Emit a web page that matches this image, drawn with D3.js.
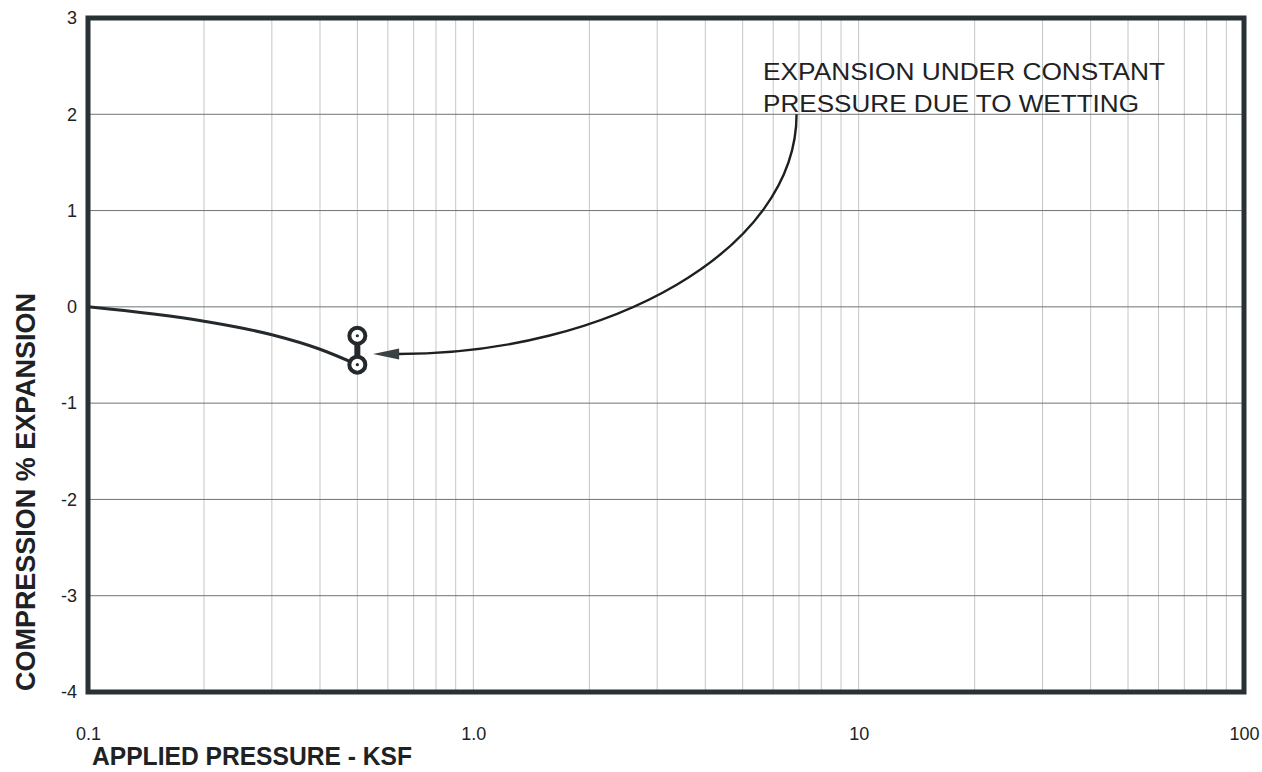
<!DOCTYPE html>
<html>
<head>
<meta charset="utf-8">
<script src="https://cdn.jsdelivr.net/npm/d3@7"></script>
<style>
  html, body { margin: 0; padding: 0; background: #fff; }
  svg { display: block; }
  text { font-family: "Liberation Sans", Arial, Helvetica, sans-serif; fill: #1e2224; }
</style>
</head>
<body>
<svg id="chart" width="1262" height="772"></svg>
<script>
// Consolidation / swell test: applied pressure (ksf) vs. compression (-) / expansion (+) in percent
const loadPressure = [0.1, 0.2, 0.3, 0.4, 0.5];
const loadStrain   = [0, -0.15, -0.29, -0.44, -0.6];

// Readings at constant pressure before and after wetting
const wetPressure = [0.5, 0.5];
const wetStrain   = [-0.6, -0.3];

// Leader from the note to the wetting readings (cubic Bezier: start, two controls, end)
const leaderPressure = [6.9, 6.9, 2.26, 0.638];
const leaderStrain   = [2.0, 0.6, -0.49, -0.49];
const arrowTip = [0.549, -0.49];

const xTickValues = [0.1, 1, 10, 100];
const xTickLabels = ["0.1", "1.0", "10", "100"];
const yTickValues = [3, 2, 1, 0, -1, -2, -3, -4];

const noteLines = ["EXPANSION UNDER CONSTANT", "PRESSURE DUE TO WETTING"];
const xTitle = "APPLIED PRESSURE - KSF";
const yTitle = "COMPRESSION % EXPANSION";

const svg = d3.select("#chart");
const W = 1262, H = 772;
const m = { left: 88, right: 18, top: 18, bottom: 80 };
const x0 = m.left, x1 = W - m.right, y0 = m.top, y1 = H - m.bottom;

const x = d3.scaleLog().domain([0.1, 100]).range([x0, x1]);
const y = d3.scaleLinear().domain([-4, 3]).range([y1, y0]);

const ink = "#23292c";
const fontStack = "Liberation Sans, Arial, sans-serif";

svg.append("rect").attr("width", W).attr("height", H).attr("fill", "#fff");

// Log grid (vertical) and unit grid (horizontal)
const grid = svg.append("g");
grid.selectAll("line.v")
  .data(x.ticks().filter(d => d > 0.1 && d < 100))
  .join("line")
  .attr("x1", d => x(d)).attr("x2", d => x(d))
  .attr("y1", y0).attr("y2", y1)
  .attr("stroke", "#c4c6c6").attr("stroke-width", 1);
grid.selectAll("line.h")
  .data(yTickValues.filter(d => d > -4 && d < 3))
  .join("line")
  .attr("x1", x0).attr("x2", x1)
  .attr("y1", d => y(d)).attr("y2", d => y(d))
  .attr("stroke", "#6e7373").attr("stroke-width", 1);

// Axes (labels only; the frame is drawn separately)
const xAxis = svg.append("g")
  .attr("transform", `translate(0,${y1})`)
  .call(d3.axisBottom(x).tickValues(xTickValues)
    .tickFormat((d, i) => xTickLabels[i]).tickSize(0).tickPadding(35));
xAxis.select(".domain").remove();
xAxis.selectAll("text").attr("font-size", 18).style("font-family", fontStack).attr("fill", "#1e2224");

const yAxis = svg.append("g")
  .attr("transform", `translate(${x0},0)`)
  .call(d3.axisLeft(y).tickValues(yTickValues).tickFormat(d => String(d)).tickSize(0).tickPadding(11));
yAxis.select(".domain").remove();
yAxis.selectAll("text").attr("font-size", 18).style("font-family", fontStack).attr("fill", "#1e2224");

// Loading curve
const line = d3.line().x(d => x(d[0])).y(d => y(d[1])).curve(d3.curveMonotoneX);
svg.append("path")
  .datum(loadPressure.map((p, i) => [p, loadStrain[i]]))
  .attr("d", line)
  .attr("fill", "none").attr("stroke", ink).attr("stroke-width", 3);

// Wetting step: connector and ringed points
const wet = wetPressure.map((p, i) => [p, wetStrain[i]]);
svg.append("line")
  .attr("x1", x(wet[0][0])).attr("y1", y(wet[0][1]))
  .attr("x2", x(wet[1][0])).attr("y2", y(wet[1][1]))
  .attr("stroke", ink).attr("stroke-width", 6);
svg.selectAll("circle.ring").data(wet).join("circle")
  .attr("cx", d => x(d[0])).attr("cy", d => y(d[1]))
  .attr("r", 8).attr("fill", "#fff").attr("stroke", ink).attr("stroke-width", 4);
svg.selectAll("circle.dot").data(wet).join("circle")
  .attr("cx", d => x(d[0])).attr("cy", d => y(d[1]))
  .attr("r", 1.6).attr("fill", ink);

// Leader arrow
const lp = leaderPressure.map((p, i) => [x(p), y(leaderStrain[i])]);
const leaderPath = d3.path();
leaderPath.moveTo(lp[0][0], lp[0][1]);
leaderPath.bezierCurveTo(lp[1][0], lp[1][1], lp[2][0], lp[2][1], lp[3][0], lp[3][1]);
svg.append("path")
  .attr("d", leaderPath.toString())
  .attr("fill", "none").attr("stroke", "#1c2022").attr("stroke-width", 2.4);
const tx = x(arrowTip[0]), ty = y(arrowTip[1]), bx = lp[3][0] + 1;
svg.append("path")
  .attr("d", `M${tx},${ty} L${bx},${ty - 5.5} L${bx},${ty + 5.5} Z`)
  .attr("fill", "#3a4244");

// Note text
const note = svg.append("g");
note.append("text").attr("x", 763).attr("y", 80).attr("font-size", 23)
  .attr("textLength", 402).attr("lengthAdjust", "spacingAndGlyphs").text(noteLines[0]);
note.append("text").attr("x", 763).attr("y", 112).attr("font-size", 23)
  .attr("textLength", 376).attr("lengthAdjust", "spacingAndGlyphs").text(noteLines[1]);

// Frame
svg.append("rect")
  .attr("x", x0).attr("y", y0).attr("width", x1 - x0).attr("height", y1 - y0)
  .attr("fill", "none").attr("stroke", "#283134").attr("stroke-width", 5);

// Axis titles
svg.append("text").attr("x", 92).attr("y", 765)
  .attr("font-size", 25).attr("font-weight", "bold")
  .attr("textLength", 320).attr("lengthAdjust", "spacingAndGlyphs").text(xTitle);
svg.append("text")
  .attr("transform", "translate(35,492) rotate(-90)")
  .attr("text-anchor", "middle")
  .attr("font-size", 27).attr("font-weight", "bold")
  .attr("textLength", 398).attr("lengthAdjust", "spacingAndGlyphs").text(yTitle);
</script>
</body>
</html>
